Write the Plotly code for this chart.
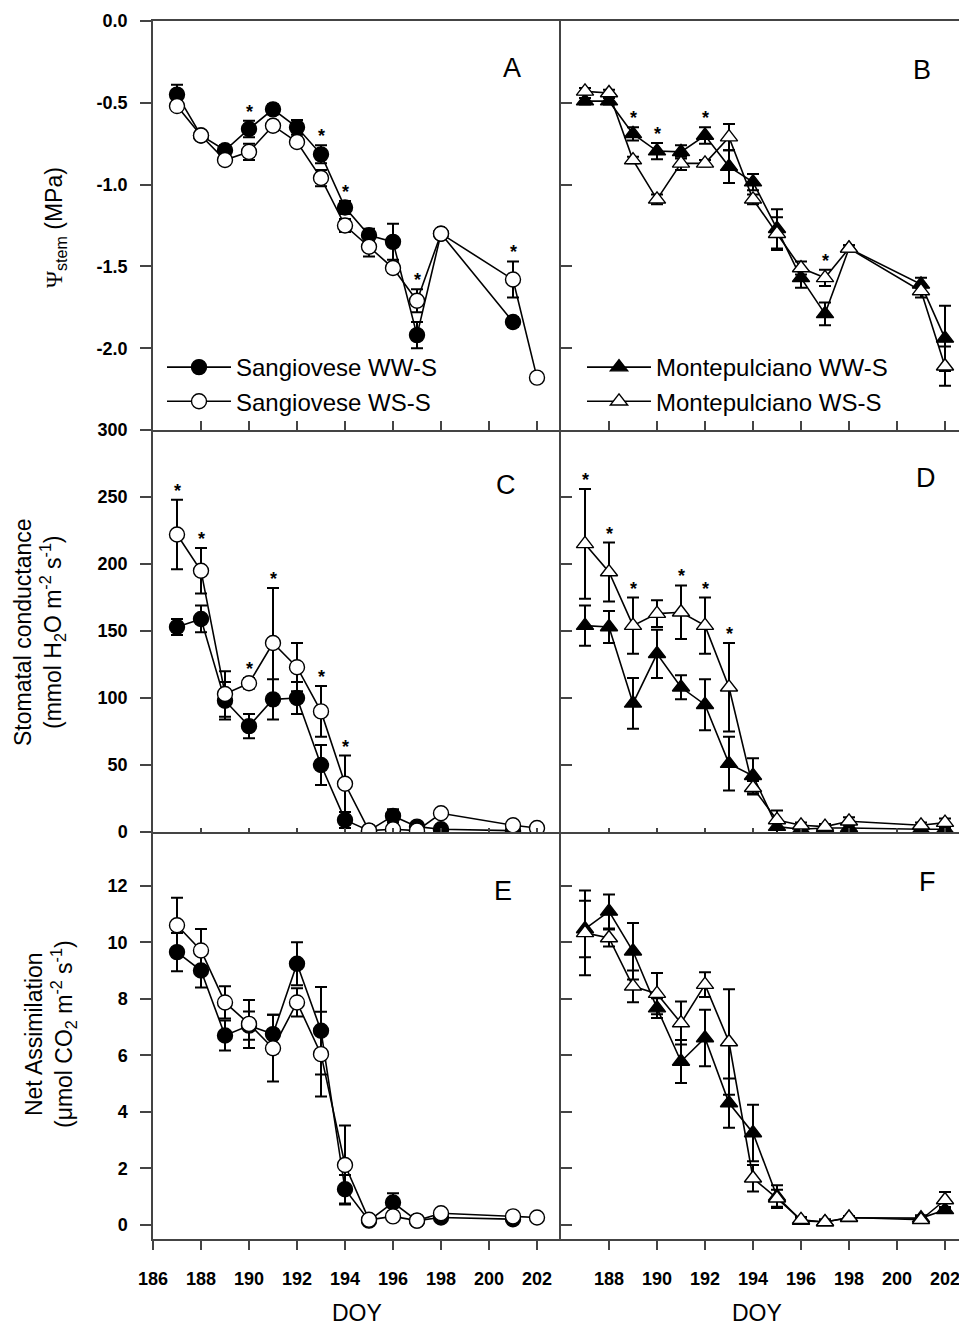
import plotly.graph_objects as go

# ---------------- data ----------------
doy_s_ww = [187, 188, 189, 190, 191, 192, 193, 194, 195, 196, 197, 198, 201]
doy_s_ws = [187, 188, 189, 190, 191, 192, 193, 194, 195, 196, 197, 198, 201, 202]
doy_m = [187, 188, 189, 190, 191, 192, 193, 194, 195, 196, 197, 198, 201, 202]

# Panel A - stem water potential, Sangiovese
s_ww_psi = [-0.45, -0.70, -0.79, -0.66, -0.54, -0.65, -0.815, -1.14, -1.31, -1.35, -1.92, -1.30, -1.84]
s_ww_psi_err = [0.06, 0.02, 0.03, 0.05, 0.03, 0.045, 0.055, 0.04, 0.04, 0.11, 0.08, 0.02, 0.03]
s_ws_psi = [-0.52, -0.70, -0.85, -0.80, -0.64, -0.74, -0.96, -1.25, -1.38, -1.51, -1.71, -1.30, -1.58, -2.18]
s_ws_psi_err = [0.02, 0.02, 0.02, 0.05, 0.03, 0.02, 0.05, 0.04, 0.06, 0.03, 0.07, 0.02, 0.11, 0.02]

# Panel B - stem water potential, Montepulciano
m_ww_psi = [-0.49, -0.49, -0.69, -0.795, -0.80, -0.70, -0.89, -0.985, -1.27, -1.57, -1.79, -1.39, -1.61, -1.94]
m_ww_psi_err = [0.02, 0.02, 0.04, 0.05, 0.04, 0.05, 0.10, 0.05, 0.12, 0.06, 0.07, 0.02, 0.04, 0.20]
m_ws_psi = [-0.43, -0.44, -0.85, -1.09, -0.87, -0.87, -0.71, -1.09, -1.30, -1.51, -1.57, -1.39, -1.65, -2.11]
m_ws_psi_err = [0.02, 0.02, 0.02, 0.03, 0.04, 0.02, 0.08, 0.03, 0.10, 0.04, 0.05, 0.02, 0.04, 0.12]

# Panel C - stomatal conductance, Sangiovese
s_ww_gs = [153, 159, 98, 79, 99, 100, 50, 9, 1, 12, 4, 2, 1]
s_ww_gs_err = [6, 10, 14, 9, 15, 12, 15, 6, 1, 5, 2, 1, 1]
s_ws_gs = [222, 195, 103, 111, 141, 123, 90, 36, 1, 2, 1, 14, 5, 3]
s_ws_gs_err = [26, 17, 17, 4, 41, 18, 19, 21, 1, 2, 1, 3, 2, 2]

# Panel D - stomatal conductance, Montepulciano
m_ww_gs = [154, 153, 96, 133, 108, 95, 51, 42, 4, 2, 3, 3, 2, 2]
m_ww_gs_err = [15, 12, 19, 18, 9, 19, 20, 13, 5, 1, 2, 2, 1, 1]
m_ws_gs = [215, 194, 154, 163, 164, 154, 108, 33, 9, 5, 4, 8, 5, 7]
m_ws_gs_err = [41, 22, 21, 10, 20, 21, 33, 5, 7, 2, 2, 3, 2, 3]

# Panel E - net assimilation, Sangiovese
s_ww_an = [9.65, 9.0, 6.7, 7.05, 6.75, 9.24, 6.87, 1.26, 0.15, 0.79, 0.15, 0.26, 0.2]
s_ww_an_err = [0.68, 0.6, 0.53, 0.5, 0.68, 0.76, 1.55, 0.5, 0.1, 0.33, 0.1, 0.1, 0.1]
s_ws_an = [10.6, 9.71, 7.87, 7.11, 6.25, 7.87, 6.04, 2.12, 0.18, 0.3, 0.15, 0.41, 0.3, 0.26]
s_ws_an_err = [0.97, 0.76, 0.57, 0.85, 1.18, 0.5, 1.5, 1.4, 0.1, 0.1, 0.1, 0.1, 0.1, 0.1]

# Panel F - net assimilation, Montepulciano
m_ww_an = [10.47, 11.09, 9.68, 7.67, 5.78, 6.61, 4.31, 3.25, 1.0, 0.15, 0.1, 0.25, 0.24, 0.53]
m_ww_an_err = [1.0, 0.6, 1.0, 0.35, 0.76, 1.0, 0.87, 1.0, 0.4, 0.1, 0.05, 0.05, 0.1, 0.1]
m_ws_an = [10.33, 10.15, 8.44, 8.18, 7.14, 8.5, 6.47, 1.65, 0.94, 0.18, 0.1, 0.26, 0.18, 0.88]
m_ws_an_err = [1.5, 0.3, 0.56, 0.73, 0.76, 0.44, 1.87, 0.47, 0.3, 0.1, 0.1, 0.05, 0.1, 0.28]

# significant differences (asterisks)
sig_A = [190, 193, 194, 197, 201]
sig_B = [189, 190, 192, 197]
sig_C = [187, 188, 190, 191, 193, 194]
sig_D = [187, 188, 189, 191, 192, 193]

legend_names = ["Sangiovese WW-S", "Sangiovese WS-S", "Montepulciano WW-S", "Montepulciano WS-S"]
panel_letters = ["A", "B", "C", "D", "E", "F"]
x_ticks_left = [186, 188, 190, 192, 194, 196, 198, 200, 202]
x_ticks_right = [188, 190, 192, 194, 196, 198, 200, 202]
psi_ticks = [0.0, -0.5, -1.0, -1.5, -2.0]
psi_tick_text = ["0.0", "-0.5", "-1.0", "-1.5", "-2.0"]
gs_ticks = [0, 50, 100, 150, 200, 250, 300]
an_ticks = [0, 2, 4, 6, 8, 10, 12]

# ---------------- layout geometry ----------------
W, H = 959, 1326
FONT = "Liberation Sans, Arial, sans-serif"

def px_x(p):
    return p / W

def px_y(p):
    return 1 - p / H

xl = [px_x(153), px_x(561)]
xr = [px_x(561), 1.0]
yA = [px_y(430), px_y(21)]
yC = [px_y(832), px_y(430)]
yE = [px_y(1239), px_y(832)]

fig = go.Figure()

def add_series(x, y, err, xa, ya, symbol, filled, name, legend, show):
    fig.add_trace(go.Scatter(
        x=x, y=y, mode="lines+markers",
        xaxis=xa, yaxis=ya,
        name=name, legend=legend, showlegend=show,
        line=dict(color="black", width=1.6),
        marker=dict(symbol=symbol, size=15,
                    color="black" if filled else "white",
                    line=dict(color="black", width=1.4)),
        error_y=dict(type="data", array=err, visible=True, color="black",
                     thickness=2, width=6),
        hoverinfo="skip",
    ))

# Sangiovese panels (left)
for (xa, ya, yww, eww, yws, ews, show) in [
    ("x", "y", s_ww_psi, s_ww_psi_err, s_ws_psi, s_ws_psi_err, True),
    ("x3", "y3", s_ww_gs, s_ww_gs_err, s_ws_gs, s_ws_gs_err, False),
    ("x5", "y5", s_ww_an, s_ww_an_err, s_ws_an, s_ws_an_err, False),
]:
    add_series(doy_s_ww, yww, eww, xa, ya, "circle", True, legend_names[0], "legend", show)
    add_series(doy_s_ws, yws, ews, xa, ya, "circle", False, legend_names[1], "legend", show)

# Montepulciano panels (right)
for (xa, ya, yww, eww, yws, ews, show) in [
    ("x2", "y2", m_ww_psi, m_ww_psi_err, m_ws_psi, m_ws_psi_err, True),
    ("x4", "y4", m_ww_gs, m_ww_gs_err, m_ws_gs, m_ws_gs_err, False),
    ("x6", "y6", m_ww_an, m_ww_an_err, m_ws_an, m_ws_an_err, False),
]:
    add_series(doy_m, yww, eww, xa, ya, "triangle-up", True, legend_names[2], "legend2", show)
    add_series(doy_m, yws, ews, xa, ya, "triangle-up", False, legend_names[3], "legend2", show)

annotations = []

# asterisks placed just above the highest error bar of each significant day
def add_stars(sig, xa, ya, days_ww, yww, eww, days_ws, yws, ews):
    for d in sig:
        tops = []
        if d in days_ww:
            i = days_ww.index(d)
            tops.append(yww[i] + eww[i])
        if d in days_ws:
            i = days_ws.index(d)
            tops.append(yws[i] + ews[i])
        annotations.append(dict(x=d, y=max(tops), xref=xa, yref=ya, text="<b>*</b>",
                                showarrow=False, yanchor="bottom", yshift=-3,
                                font=dict(family=FONT, size=18, color="black")))

add_stars(sig_A, "x", "y", doy_s_ww, s_ww_psi, s_ww_psi_err, doy_s_ws, s_ws_psi, s_ws_psi_err)
add_stars(sig_B, "x2", "y2", doy_m, m_ww_psi, m_ww_psi_err, doy_m, m_ws_psi, m_ws_psi_err)
add_stars(sig_C, "x3", "y3", doy_s_ww, s_ww_gs, s_ww_gs_err, doy_s_ws, s_ws_gs, s_ws_gs_err)
add_stars(sig_D, "x4", "y4", doy_m, m_ww_gs, m_ww_gs_err, doy_m, m_ws_gs, m_ws_gs_err)

# panel letters
letter_pos = [(512, 68), (922, 70), (506, 485), (926, 478), (503, 891), (927, 882)]
for letter, (lx, ly) in zip(panel_letters, letter_pos):
    annotations.append(dict(x=px_x(lx), y=px_y(ly), xref="paper", yref="paper",
                            text=letter, showarrow=False, xanchor="center", yanchor="middle",
                            font=dict(family=FONT, size=27, color="black")))

# y-axis titles
annotations.append(dict(
    x=px_x(55), y=px_y(228), xref="paper", yref="paper", textangle=-90,
    text="<span style='font-family:Liberation Serif, Times New Roman, serif'>Ψ</span>"
         "<sub>stem</sub> (MPa)",
    showarrow=False, xanchor="center", yanchor="middle",
    font=dict(family=FONT, size=23, color="black")))
annotations.append(dict(
    x=px_x(39), y=px_y(632), xref="paper", yref="paper", textangle=-90,
    text="Stomatal conductance<br>(mmol H<sub>2</sub>O m<sup>-2</sup> s<sup>-1</sup>)",
    showarrow=False, xanchor="center", yanchor="middle",
    font=dict(family=FONT, size=23, color="black")))
annotations.append(dict(
    x=px_x(50), y=px_y(1034), xref="paper", yref="paper", textangle=-90,
    text="Net Assimilation<br>(μmol CO<sub>2</sub> m<sup>-2</sup> s<sup>-1</sup>)",
    showarrow=False, xanchor="center", yanchor="middle",
    font=dict(family=FONT, size=23, color="black")))

# x-axis titles
for cx in (357, 757):
    annotations.append(dict(x=px_x(cx), y=px_y(1313), xref="paper", yref="paper",
                            text="DOY", showarrow=False, xanchor="center", yanchor="middle",
                            font=dict(family=FONT, size=23, color="black")))

axis_common = dict(showline=True, linecolor="#444", linewidth=1.5, showgrid=False,
                   zeroline=False, tickcolor="#444", tickwidth=1.5, automargin=False,
                   tickfont=dict(family=FONT, size=18, color="black", weight="bold"))

layout = dict(
    width=W, height=H, margin=dict(l=0, r=0, t=0, b=0, autoexpand=False),
    paper_bgcolor="white", plot_bgcolor="white",
    annotations=annotations,
    legend=dict(x=px_x(162), y=px_y(345), xanchor="left", yanchor="top",
                bgcolor="rgba(0,0,0,0)", font=dict(family=FONT, size=24, color="black"),
                tracegroupgap=0, itemwidth=64),
    legend2=dict(x=px_x(582), y=px_y(345), xanchor="left", yanchor="top",
                 bgcolor="rgba(0,0,0,0)", font=dict(family=FONT, size=24, color="black"),
                 tracegroupgap=0, itemwidth=64),
)

# x axes
xr_left = [186, 203]
xr_right = [186, 186 + 398 / 24]
layout["xaxis"] = dict(axis_common, domain=xl, range=xr_left, anchor="y", tickvals=x_ticks_left,
                       ticks="inside", ticklen=9, showticklabels=False, mirror=True)
layout["xaxis2"] = dict(axis_common, domain=xr, range=xr_right, anchor="y2", tickvals=x_ticks_right,
                        ticks="inside", ticklen=9, showticklabels=False, mirror=True)
layout["xaxis3"] = dict(axis_common, domain=xl, range=xr_left, anchor="y3", tickvals=x_ticks_left,
                        ticks="inside", ticklen=4, showticklabels=False)
layout["xaxis4"] = dict(axis_common, domain=xr, range=xr_right, anchor="y4", tickvals=x_ticks_right,
                        ticks="inside", ticklen=4, showticklabels=False)
layout["xaxis5"] = dict(axis_common, domain=xl, range=xr_left, anchor="y5", tickvals=x_ticks_left,
                        ticks="outside", ticklen=9, ticklabelstandoff=14)
layout["xaxis6"] = dict(axis_common, domain=xr, range=xr_right, anchor="y6", tickvals=x_ticks_right,
                        ticks="outside", ticklen=9, ticklabelstandoff=14, ticklabeloverflow="allow")

# y axes
layout["yaxis"] = dict(axis_common, domain=yA, range=[-2.5, 0], anchor="x", tickvals=psi_ticks,
                       ticktext=psi_tick_text, ticks="outside", ticklen=11, ticklabelstandoff=9)
layout["yaxis2"] = dict(axis_common, domain=yA, range=[-2.5, 0], anchor="x2", tickvals=psi_ticks,
                        ticks="inside", ticklen=11, showticklabels=False)
layout["yaxis3"] = dict(axis_common, domain=yC, range=[0, 300], anchor="x3", tickvals=gs_ticks,
                        ticks="outside", ticklen=11, ticklabelstandoff=9)
layout["yaxis4"] = dict(axis_common, domain=yC, range=[0, 300], anchor="x4", tickvals=gs_ticks,
                        ticks="inside", ticklen=11, showticklabels=False)
layout["yaxis5"] = dict(axis_common, domain=yE, range=[-0.5, 13.9], anchor="x5", tickvals=an_ticks,
                        ticks="outside", ticklen=11, ticklabelstandoff=9)
layout["yaxis6"] = dict(axis_common, domain=yE, range=[-0.5, 13.9], anchor="x6", tickvals=an_ticks,
                        ticks="inside", ticklen=11, showticklabels=False)

fig.update_layout(**layout)
# remove the browser's default 8px page margin so the figure sits at the window's corner
fig.write_html("out.html", config={"displayModeBar": False},
               post_script="document.body.style.margin='0px';")
